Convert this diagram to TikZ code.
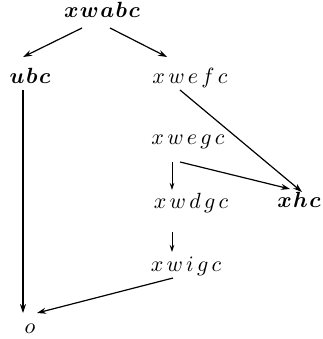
\documentclass[tikz,border=0pt]{standalone}
\usepackage{amsmath,bm}
\usetikzlibrary{arrows.meta}
\newcommand{\lsp}{\mskip2.7mu}
\newcommand{\bsp}{\mskip1.2mu}
\begin{document}
\begin{tikzpicture}[x=1pt,y=-1pt,
  lbl/.style={anchor=base,inner sep=0pt,scale=2.2},
  arr/.style={-{Stealth[length=9pt,width=6pt]},line width=1.2pt},
  sarr/.style={-{Stealth[length=7pt,width=4.5pt]},line width=0.9pt}]
\useasboundingbox (0,0) rectangle (322,339);
\node[lbl] (xwabc) at (102,18) {$\bm{x\bsp w\bsp a\bsp b\bsp c}$};
\node[lbl] (ubc) at (30,84) {$\bm{u\bsp b\bsp c}$};
\node[lbl] (xwefc) at (190,84) {$x\lsp w\lsp e\lsp f\lsp c$};
\node[lbl] (xwegc) at (188,144) {$x\lsp w\lsp e\lsp g\lsp c$};
\node[lbl] (xwdgc) at (191,208) {$x\lsp w\lsp d\lsp g\lsp c$};
\node[lbl] (xhc) at (299,207) {$\bm{x\bsp h\bsp c}$};
\node[lbl] (xwigc) at (186,271) {$x\lsp w\lsp i\lsp g\lsp c$};
\node[lbl] (o) at (30,333) {$o$};
\draw[arr] ([shift={(-20,10)}]xwabc.base) -- ([shift={(-7,-27)}]ubc.base);
\draw[arr] ([shift={(8,10)}]xwabc.base) -- ([shift={(-23,-27)}]xwefc.base);
\draw[arr] ([shift={(-10,6)}]xwefc.base) -- ([shift={(3,-15)}]xhc.base);
\draw[arr] ([shift={(-8,18)}]xwegc.base) -- ([shift={(-9,-18)}]xhc.base);
\draw[sarr] ([shift={(-16,18)}]xwegc.base) -- ([shift={(-19,-18)}]xwdgc.base);
\draw[sarr] ([shift={(-19,24)}]xwdgc.base) -- ([shift={(-14,-19)}]xwigc.base);
\draw[arr] ([shift={(-7,6)}]ubc.base) -- ([shift={(-7,-20)}]o.base);
\draw[arr] ([shift={(-13,7)}]xwigc.base) -- ([shift={(7,-20)}]o.base);
\end{tikzpicture}
\end{document}
